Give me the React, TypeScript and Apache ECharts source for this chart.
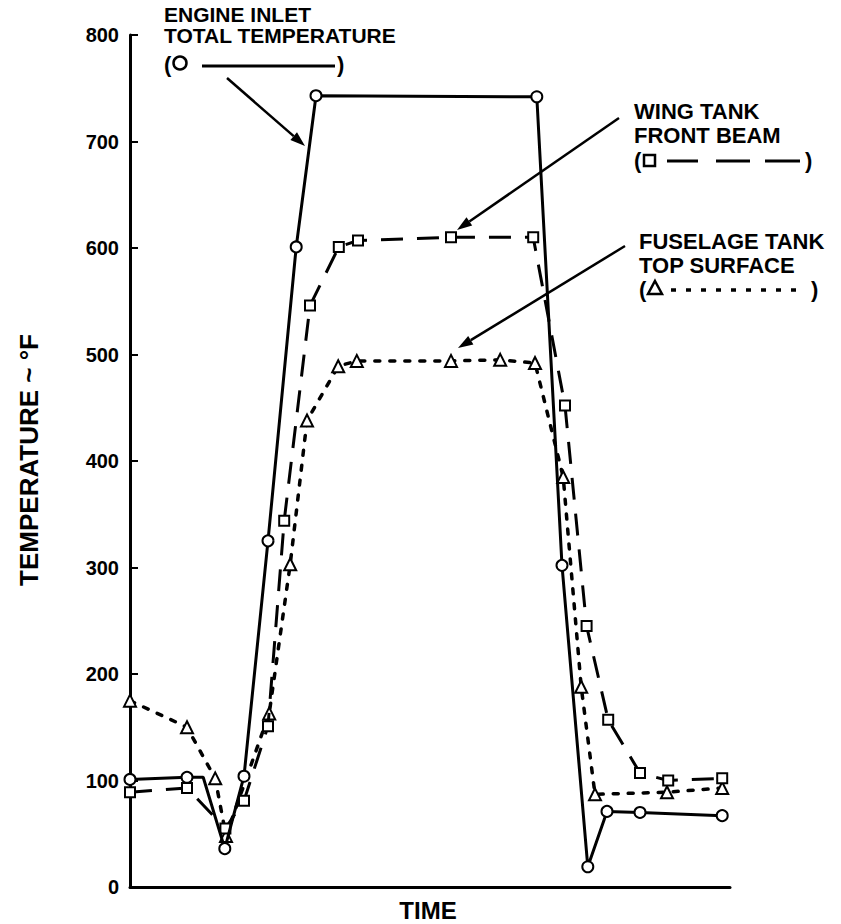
import React, { useEffect, useRef } from "react";
import * as echarts from "echarts";

// Time (arbitrary units, 0..100) and temperature (°F) readings
const engineTime = [0, 9.5, 12.2, 15.8, 19, 23, 27.7, 31, 67.8, 72, 76.3, 79.5, 85, 98.7];
const engineTemp = [101, 103, 103, 36, 104, 325, 601, 743, 742, 302, 19, 71, 70, 67];
const engineNoMarker = [2];

const wingTime = [0, 9.5, 15.9, 19, 23, 25.7, 30, 34.8, 38, 53.5, 67.2, 72.5, 76.1, 79.7, 85, 89.7, 98.7];
const wingTemp = [89, 93, 55, 81, 151, 344, 546, 601, 607, 610, 610, 452, 245, 157, 107, 100, 102];

const fuseTime = [0, 9.5, 14.2, 16, 23.2, 26.7, 29.5, 34.7, 37.8, 53.5, 61.7, 67.5, 72.2, 75.2, 77.5, 89.5, 98.7];
const fuseTemp = [175, 150, 102, 48, 163, 303, 438, 489, 494, 494, 495, 492, 385, 188, 87, 89, 93];

const yTicks = [0, 100, 200, 300, 400, 500, 600, 700, 800];

const FONT = "'Liberation Sans', Arial, Helvetica, sans-serif";

function arrow(x1: number, y1: number, x2: number, y2: number) {
  const ang = Math.atan2(y2 - y1, x2 - x1);
  const L = 15, W = 5;
  const bx = x2 - L * Math.cos(ang), by = y2 - L * Math.sin(ang);
  const px = -Math.sin(ang) * W, py = Math.cos(ang) * W;
  return [
    { type: "line", shape: { x1, y1, x2: bx, y2: by }, style: { stroke: "#000", lineWidth: 2.5 } },
    {
      type: "polygon",
      shape: { points: [[x2, y2], [bx + px, by + py], [bx - px, by - py]] },
      style: { fill: "#000" },
    },
  ];
}

function label(text: string, x: number, y: number, size = 22) {
  return {
    type: "text",
    x,
    y,
    style: {
      text,
      font: `bold ${size}px ${FONT}`,
      fill: "#000",
      align: "left",
      verticalAlign: "middle",
    },
  };
}

export default function App() {
  const ref = useRef<HTMLDivElement>(null);
  useEffect(() => {
    document.body.style.margin = "0";
    const chart = echarts.init(ref.current!, null, { renderer: "svg" });
    const mk = (t: number[], v: number[], noMark: number[] = []) =>
      t.map((x, i) => (noMark.includes(i) ? { value: [x, v[i]], symbol: "none" } : [x, v[i]]));
    const markerStyle = { color: "#fff", borderColor: "#000", borderWidth: 2 };
    const option: any = {
      animation: false,
      backgroundColor: "#fff",
      grid: { left: 130, right: 111, top: 35, bottom: 37 },
      xAxis: {
        type: "value",
        min: 0,
        max: 100,
        axisLine: { show: true, onZero: false, lineStyle: { color: "#000", width: 3 } },
        axisTick: { show: false },
        axisLabel: { show: false },
        splitLine: { show: false },
      },
      yAxis: {
        type: "value",
        min: 0,
        max: 800,
        interval: 100,
        axisLine: { show: true, lineStyle: { color: "#000", width: 3 } },
        axisTick: { show: true, inside: true, length: 8, lineStyle: { color: "#000", width: 2 } },
        axisLabel: {
          color: "#000",
          fontFamily: FONT,
          fontWeight: "bold",
          fontSize: 20,
          margin: 11,
          formatter: (v: number) => (yTicks.includes(v) ? String(v) : ""),
        },
        splitLine: { show: false },
      },
      series: [
        {
          type: "line",
          name: "Fuselage tank top surface",
          data: mk(fuseTime, fuseTemp),
          symbol: "triangle",
          symbolSize: 12,
          itemStyle: markerStyle,
          lineStyle: { color: "#000", width: 3.5, type: [5, 10], cap: "round" },
          z: 2,
        },
        {
          type: "line",
          name: "Wing tank front beam",
          data: mk(wingTime, wingTemp),
          symbol: "rect",
          symbolSize: 10,
          itemStyle: markerStyle,
          lineStyle: { color: "#000", width: 3, type: [22, 14] },
          z: 3,
        },
        {
          type: "line",
          name: "Engine inlet total temperature",
          data: mk(engineTime, engineTemp, engineNoMarker),
          symbol: "circle",
          symbolSize: 11,
          itemStyle: markerStyle,
          lineStyle: { color: "#000", width: 3 },
          z: 4,
        },
      ],
      graphic: [
        // y axis title
        {
          type: "text",
          x: 29,
          y: 460,
          rotation: Math.PI / 2,
          style: {
            text: "TEMPERATURE ~ °F",
            font: `bold 26px ${FONT}`,
            fill: "#000",
            align: "center",
            verticalAlign: "middle",
          },
        },
        {
          type: "text",
          x: 428,
          y: 910,
          style: { text: "TIME", font: `bold 24px ${FONT}`, fill: "#000", align: "center", verticalAlign: "middle" },
        },
        // Engine label
        label("ENGINE INLET", 164, 14, 21),
        label("TOTAL TEMPERATURE", 164, 35, 21),
        label("(", 164, 64),
        { type: "circle", shape: { cx: 180, cy: 63, r: 6.5 }, style: { fill: "#fff", stroke: "#000", lineWidth: 2.5 } },
        { type: "line", shape: { x1: 202, y1: 66, x2: 335, y2: 66 }, style: { stroke: "#000", lineWidth: 3 } },
        label(")", 337, 64),
        ...arrow(227, 78, 305, 146),
        // Wing label
        label("WING TANK", 634, 111),
        label("FRONT BEAM", 634, 135),
        label("(", 634, 160),
        { type: "rect", shape: { x: 644, y: 155, width: 11, height: 11 }, style: { fill: "#fff", stroke: "#000", lineWidth: 2.5 } },
        { type: "line", shape: { x1: 667, y1: 161, x2: 698, y2: 161 }, style: { stroke: "#000", lineWidth: 3 } },
        { type: "line", shape: { x1: 716, y1: 161, x2: 750, y2: 161 }, style: { stroke: "#000", lineWidth: 3 } },
        { type: "line", shape: { x1: 765, y1: 161, x2: 800, y2: 161 }, style: { stroke: "#000", lineWidth: 3 } },
        label(")", 805, 160),
        ...arrow(619, 118, 457, 230),
        // Fuselage label
        label("FUSELAGE TANK", 639, 241),
        label("TOP SURFACE", 639, 265),
        label("(", 639, 289),
        {
          type: "polygon",
          shape: { points: [[655, 281], [662, 294], [648, 294]] },
          style: { fill: "#fff", stroke: "#000", lineWidth: 2.5 },
        },
        {
          type: "line",
          shape: { x1: 671, y1: 290, x2: 806, y2: 290 },
          style: { stroke: "#000", lineWidth: 3.5, lineDash: [5, 10] },
        },
        label(")", 811, 289),
        ...arrow(625, 246, 458, 348),
      ],
    };
    chart.setOption(option);
    return () => chart.dispose();
  }, []);
  return <div ref={ref} style={{ width: 841, height: 924 }} />;
}
